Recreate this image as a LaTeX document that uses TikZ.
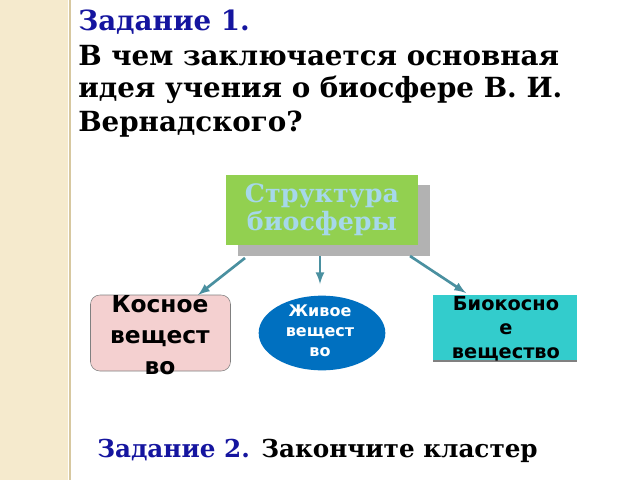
\documentclass[tikz,border=0pt]{standalone}
\usepackage{fontspec}
\setmainfont{DejaVu Serif}
\newfontfamily\dvs{DejaVu Sans}
\usetikzlibrary{shapes.geometric}
\definecolor{ttl}{HTML}{15159F}
\definecolor{arr}{HTML}{4A90A0}
\begin{document}
\begin{tikzpicture}[x=0.75pt,y=-0.75pt,
  conn/.style={draw=arr,line width=2pt,-latex},
  lbl/.style={anchor=west,inner sep=0,font=\fontsize{20.8}{24}\selectfont\bfseries}]
\useasboundingbox (0,0) rectangle (640,480);
\fill[white] (0,0) rectangle (640,480);
\fill[fill={rgb,255:red,245;green,234;blue,205}] (0,0) rectangle (68,480);
\draw[line width=1.5pt,color={rgb,255:red,215;green,200;blue,160}] (70,0) -- (70,480);
\node[lbl,text=ttl] (t1) at (78,22) {Задание 1.};
\node[lbl] (t2) at (78,56) {В чем заключается основная};
\node[lbl] (t3) at (78,90) {идея учения о биосфере В. И.};
\node[lbl] (t4) at (78,124) {Вернадского?};
\fill[gray!60] (238,185) rectangle (430,256);
\node[fill={rgb,255:red,146;green,208;blue,80},minimum width=144pt,minimum height=52.5pt,inner sep=0,
  align=center,text={rgb,255:red,166;green,216;blue,234},font=\fontsize{19}{21}\selectfont\bfseries] (s) at (322,210) {Структура\\биосферы};
\coordinate (a1) at (245,258); \coordinate (a2) at (320,256); \coordinate (a3) at (410,256);
\coordinate (b1) at (198,295); \coordinate (b2) at (320,284); \coordinate (b3) at (466,293);
\draw[conn] (a1) -- (b1);
\draw[conn] (a2) -- (b2);
\draw[conn] (a3) -- (b3);
\node[draw=gray,fill={rgb,255:red,244;green,208;blue,208},rounded corners=7pt,minimum width=105pt,minimum height=57pt,inner sep=0] (k) at (160.5,333) {};
\node[align=center,font=\dvs\bfseries\fontsize{17.5}{23}\selectfont,inner sep=0] (kt) at (160,335) {Косное\\вещест\\во};
\node[ellipse,fill={rgb,255:red,0;green,112;blue,192},minimum width=95pt,minimum height=56pt,inner sep=0] (z) at (322,333) {};
\node[align=center,text=white,font=\dvs\bfseries\fontsize{12}{15}\selectfont,inner sep=0] (zt) at (320,331) {Живое\\вещест\\во};
\node[fill={rgb,255:red,51;green,204;blue,204},minimum width=108pt,minimum height=49pt,inner sep=0] (b) at (505,328) {};
\draw[gray,line width=0.8pt] (433,361) -- (577,361);
\node[align=center,font=\dvs\bfseries\fontsize{14.5}{18}\selectfont,inner sep=0] (bt) at (506,329) {Биокосно\\е\\вещество};
\node[anchor=west,inner sep=0,font=\fontsize{18.5}{21}\selectfont\bfseries] (t5) at (97,451) {\textcolor{ttl}{Задание 2.} Закончите кластер};
\end{tikzpicture}
\end{document}
